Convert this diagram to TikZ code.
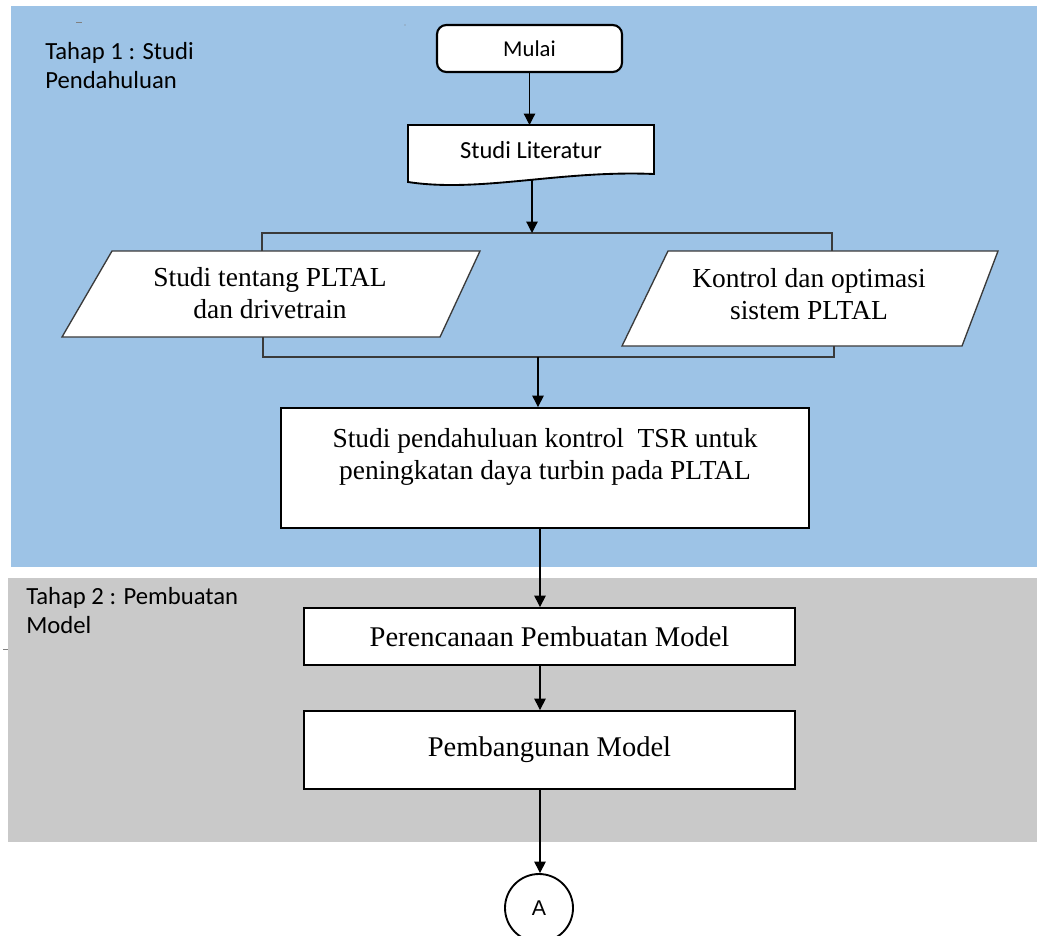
\documentclass[tikz,border=0pt]{standalone}
\usepackage{fontspec}
\setmainfont{Liberation Serif}
\newfontfamily\calibri{Carlito}
\newfontfamily\arialfont{Liberation Sans}
\usetikzlibrary{arrows.meta,calc}
\definecolor{phaseblue}{HTML}{9DC3E6}
\definecolor{phasegray}{HTML}{C9C9C9}
\definecolor{edgegray}{HTML}{3A3A3A}
\begin{document}
\begin{tikzpicture}[x=0.75pt,y=-0.75pt,
  serif/.style={font=\fontsize{20.6}{24.5}\selectfont, align=center},
  bigserif/.style={font=\fontsize{21.4}{25}\selectfont, align=center},
  phaselabel/.style={font=\calibri\fontsize{18.5}{22}\selectfont, align=left, anchor=north west, inner sep=0pt},
  procbox/.style={draw=black, line width=1.4pt, fill=white, rectangle},
  docbox/.style={draw=black, line width=1.4pt, fill=white},
  iobox/.style={draw=edgegray, line width=1pt, fill=white},
  bracket/.style={draw=edgegray, line width=0.9pt},
  flow/.style={-{Triangle[length=8.5pt,width=8.5pt]}, line width=0.9pt}]
\useasboundingbox (0,0) rectangle (1037,935);

% phase backgrounds
\fill[phaseblue] (11,6) rectangle (1037,567);
\fill[phasegray] (8,578) rectangle (1037,842);

% stray marks
\draw[gray, line width=0.7pt] (76,22) -- (82,22);
\fill[gray] (405,25) circle (0.5pt);
\draw[gray, line width=0.7pt] (3,649) -- (8,649);

% phase labels
\node[phaselabel] (ph1) at (45,42) {Tahap 1 : Studi\\Pendahuluan};
\node[phaselabel] (ph2) at (26,587) {Tahap 2 : Pembuatan\\Model};

% start terminal
\node[procbox, rounded corners=7pt, line width=1.6pt, minimum width=138.75pt,
      minimum height=35.25pt, font=\calibri\fontsize{17}{20}\selectfont] (start) at (529.5,48.5) {Mulai};

% document shape: literature study
\coordinate (litNW) at (408,125);
\coordinate (litNE) at (654,125);
\coordinate (litSE) at (654,174);
\coordinate (litSW) at (408,182);
\draw[docbox] (litNW) -- (litNE) -- (litSE) .. controls (560,170) and (480,193) .. (litSW) -- cycle;
\node[font=\calibri\fontsize{18.4}{22}\selectfont] (lit) at (531,150) {Studi Literatur};
\coordinate (litbot) at (532,180);

% input/output parallelograms
\draw[iobox] (112,251) -- (480,251) -- (440,337) -- (62,337) -- cycle;
\node[serif] (io1) at (270,293) {Studi tentang PLTAL\\dan drivetrain};
\draw[iobox] (668,251) -- (998,251) -- (962,346) -- (622,346) -- cycle;
\node[serif] (io2) at (809,294) {Kontrol dan optimasi\\sistem PLTAL};

% split and join brackets
\coordinate (split) at (532,233);
\coordinate (brTL) at (262,251);
\coordinate (brTR) at (832,251);
\coordinate (join) at (538,357);
\coordinate (brBL) at (263,337);
\coordinate (brBR) at (834,346);
\draw[bracket] (brTL) |- (split) -| (brTR);
\draw[bracket] (brBL) |- (join) -| (brBR);

% process boxes
\node[procbox, minimum width=396pt, minimum height=90pt] (big) at (545,468) {};
\node[serif] (bigtxt) at (545,457) {Studi pendahuluan kontrol \ TSR untuk\\peningkatan daya turbin pada PLTAL};
\node[procbox, bigserif, minimum width=368.25pt, minimum height=42.75pt] (plan) at (549.5,636.5) {Perencanaan Pembuatan Model};
\node[procbox, bigserif, minimum width=368.25pt, minimum height=58.5pt] (build) at (549.5,750) {Pembangunan Model};

% off-page connector
\node[circle, draw=black, line width=1.4pt, fill=white, minimum size=51pt, inner sep=0pt,
      font=\arialfont\fontsize{16}{18}\selectfont] (conA) at (539,908) {A};

% flow arrows
\coordinate (axis) at (540,0);
\draw[flow] (start.south) -- (start.south |- litNW);
\draw[flow] (litbot) -- (split);
\draw[flow] (join) -- (join |- big.north);
\draw[flow] (big.south -| axis) -- (plan.north -| axis);
\draw[flow] (plan.south -| axis) -- (build.north -| axis);
\draw[flow] (build.south -| axis) -- (conA.north -| axis);
\end{tikzpicture}
\end{document}
